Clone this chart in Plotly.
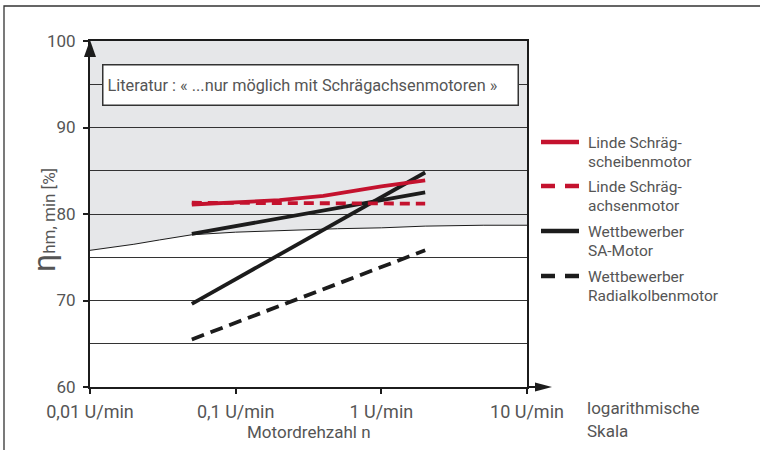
import plotly.graph_objects as go

# ---------------- data ----------------
speed_linde_ss = [0.05, 0.1, 0.2, 0.4, 0.7, 1.0, 2.0]
eff_linde_ss = [81.1, 81.3, 81.6, 82.1, 82.8, 83.2, 83.9]

speed_linde_sa = [0.05, 2.0]
eff_linde_sa = [81.3, 81.2]

speed_comp_sa = [0.05, 2.0]
eff_comp_sa_upper = [77.7, 82.5]
eff_comp_sa_lower = [69.6, 84.8]

speed_comp_rk = [0.05, 2.0]
eff_comp_rk = [65.5, 75.8]

# lower boundary of the "Literatur" region
speed_lit = [0.01, 0.02, 0.03, 0.05, 0.1, 0.2, 0.5, 1, 2, 5, 10]
eff_lit = [75.8, 76.5, 77.0, 77.6, 77.9, 78.1, 78.3, 78.4, 78.6, 78.7, 78.7]
eff_top = 100

x_tickvals = [0.01, 0.1, 1, 10]
x_ticktext = ["0,01 U/min", "0,1 U/min", "1 U/min", "10 U/min"]
y_tickvals = [60, 70, 80, 90, 100]
y_minorvals = [65, 75, 85, 95]

legend_labels = [
    ("Linde Schräg-", "scheibenmotor"),
    ("Linde Schräg-", "achsenmotor"),
    ("Wettbewerber", "SA-Motor"),
    ("Wettbewerber", "Radialkolbenmotor"),
]

# ---------------- styling ----------------
W, H = 760, 450
ML, MR, MT, MB = 90, 233, 41, 63
PW, PH = W - ML - MR, H - MT - MB
RED = "#c4122e"
BLK = "#1c1c1c"
TXT = "#555555"
GRID = "#333333"
FONT = "Roboto"


def px(x):
    return (x - ML) / PW


def py(y):
    return (H - MB - y) / PH


fig = go.Figure()

fig.add_trace(go.Scatter(x=speed_lit, y=eff_lit, mode="lines",
                         line=dict(color=BLK, width=1), showlegend=False,
                         hoverinfo="skip"))
fig.add_trace(go.Scatter(x=speed_comp_rk, y=eff_comp_rk, mode="lines",
                         name="Wettbewerber Radialkolbenmotor",
                         line=dict(color=BLK, width=3.8, dash="13px,7px")))
fig.add_trace(go.Scatter(x=speed_comp_sa, y=eff_comp_sa_lower, mode="lines",
                         name="Wettbewerber SA-Motor",
                         line=dict(color=BLK, width=3.8)))
fig.add_trace(go.Scatter(x=speed_comp_sa, y=eff_comp_sa_upper, mode="lines",
                         name="Wettbewerber SA-Motor",
                         line=dict(color=BLK, width=3.8)))
fig.add_trace(go.Scatter(x=speed_linde_sa, y=eff_linde_sa, mode="lines",
                         name="Linde Schrägachsenmotor",
                         line=dict(color=RED, width=3.8, dash="10px,6px")))
fig.add_trace(go.Scatter(x=speed_linde_ss, y=eff_linde_ss, mode="lines",
                         name="Linde Schrägscheibenmotor",
                         line=dict(color=RED, width=3.8)))

shapes = []
# grey "Literatur" region (below gridlines)
path = "M%g,%g " % (speed_lit[0], eff_top)
path += " ".join("L%g,%g" % (a, b) for a, b in zip(speed_lit, eff_lit))
path += " L%g,%g Z" % (speed_lit[-1], eff_top)
shapes.append(dict(type="path", path=path, xref="x", yref="y", layer="below",
                   fillcolor="#e6e7e9", line=dict(width=0)))

# x-axis extension with arrow
shapes.append(dict(type="line", xref="paper", yref="paper", x0=1, x1=px(546),
                   y0=0, y1=0, line=dict(color=BLK, width=2)))
shapes.append(dict(type="path", xref="paper", yref="paper",
                   path="M%f,%f L%f,%f L%f,%f Z" % (px(552), py(387), px(535), py(382.5),
                                                     px(535), py(391.5)),
                   fillcolor=BLK, line=dict(width=0)))
# y-axis arrow head
shapes.append(dict(type="path", xref="paper", yref="paper",
                   path="M%f,%f L%f,%f L%f,%f Z" % (px(90), py(40), px(84), py(57),
                                                     px(96), py(57)),
                   fillcolor=BLK, line=dict(width=0)))
# outer frame
shapes.append(dict(type="rect", xref="paper", yref="paper",
                   x0=px(4), x1=px(780), y0=py(470), y1=py(6),
                   line=dict(color="#333333", width=1.3)))

# custom legend
leg_y = [142, 186, 231, 276]
leg_style = [(RED, None), (RED, "14px,10px"), (BLK, None), (BLK, "14px,10px")]
annotations = []
for (c, d), yy, (l1, l2) in zip(leg_style, leg_y, legend_labels):
    ln = dict(color=c, width=4.5)
    if d:
        ln["dash"] = d
    shapes.append(dict(type="line", xref="paper", yref="paper",
                       x0=px(541), x1=px(579), y0=py(yy), y1=py(yy), line=ln))
    annotations.append(dict(xref="paper", yref="paper", x=px(586), y=py(yy + 1),
                            xanchor="left", yanchor="middle", showarrow=False,
                            text=l1, font=dict(family=FONT, size=15.5, color=TXT)))
    annotations.append(dict(xref="paper", yref="paper", x=px(586), y=py(yy + 20),
                            xanchor="left", yanchor="middle", showarrow=False,
                            text=l2, font=dict(family=FONT, size=15.5, color=TXT)))

# "Literatur" box
annotations.append(dict(xref="paper", yref="paper", x=px(102), y=py(64),
                        xanchor="left", yanchor="top", showarrow=False,
                        text="Literatur : « ...nur möglich mit Schrägachsenmotoren »",
                        align="left", width=406, height=31, borderpad=4,
                        bgcolor="white", bordercolor="#333333", borderwidth=1.5,
                        font=dict(family=FONT, size=16.3, color=TXT)))
# axis titles
annotations.append(dict(xref="paper", yref="paper", x=px(44), y=py(220),
                        xanchor="center", yanchor="middle", showarrow=False,
                        textangle=-90,
                        text='<span style="font-size:32px">η</span>hm, min [%]',
                        font=dict(family=FONT, size=17, color=TXT)))
annotations.append(dict(xref="paper", yref="paper", x=px(309), y=py(432),
                        xanchor="center", yanchor="middle", showarrow=False,
                        text="Motordrehzahl n",
                        font=dict(family=FONT, size=17, color=TXT)))
annotations.append(dict(xref="paper", yref="paper", x=px(585), y=py(408),
                        xanchor="left", yanchor="middle", showarrow=False,
                        text="logarithmische",
                        font=dict(family=FONT, size=17, color=TXT)))
annotations.append(dict(xref="paper", yref="paper", x=px(585), y=py(431),
                        xanchor="left", yanchor="middle", showarrow=False,
                        text="Skala",
                        font=dict(family=FONT, size=17, color=TXT)))

fig.update_layout(
    width=W, height=H,
    margin=dict(l=ML, r=MR, t=MT, b=MB, pad=0),
    paper_bgcolor="white", plot_bgcolor="white",
    showlegend=False,
    shapes=shapes, annotations=annotations,
    font=dict(family=FONT, color=TXT),
)
fig.update_xaxes(type="log", range=[-2, 1], tickvals=x_tickvals, ticktext=x_ticktext,
                 showgrid=False, zeroline=False, showline=True, linecolor=BLK,
                 linewidth=2, mirror=True, ticks="outside", ticklen=5, tickwidth=1.5,
                 tickcolor=BLK, tickfont=dict(family=FONT, size=18, color=TXT),
                 ticklabelstandoff=2)
fig.update_yaxes(range=[60, 100], tickvals=y_tickvals, showgrid=True, gridcolor=GRID,
                 gridwidth=1.3, zeroline=False, showline=True, linecolor=BLK,
                 linewidth=2, mirror=True, ticks="outside", ticklen=5, tickwidth=1.5,
                 tickcolor=BLK, tickfont=dict(family=FONT, size=17, color=TXT),
                 ticklabelstandoff=4,
                 minor=dict(tickvals=y_minorvals, showgrid=True, gridcolor=GRID,
                            gridwidth=1.3, ticks=""))

fig.write_html("out.html", config={"displayModeBar": False},
               post_script="document.body.style.margin='0';document.body.style.overflow='hidden';")
